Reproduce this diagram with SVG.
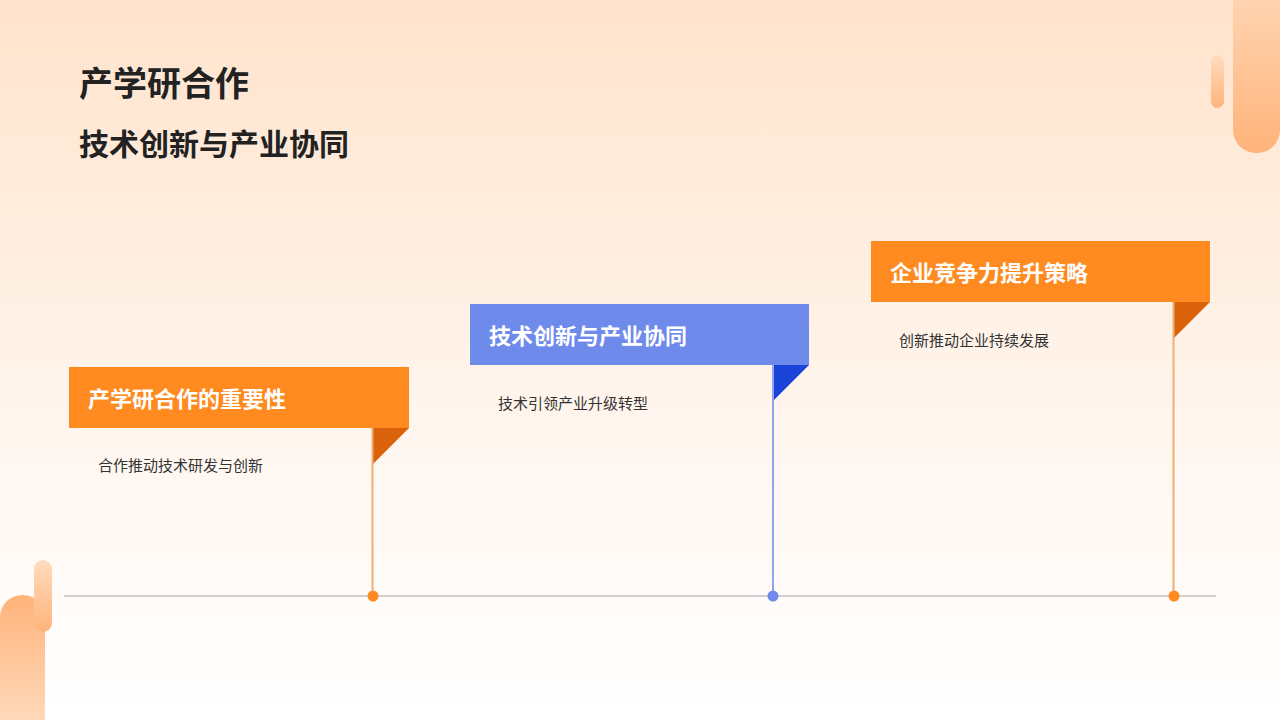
<svg xmlns="http://www.w3.org/2000/svg" width="1280" height="720" viewBox="0 0 1280 720">
<defs>
<linearGradient id="bg" x1="0" y1="0" x2="0" y2="1"><stop offset="0" stop-color="#FFE3CC"/><stop offset="0.6" stop-color="#FFF6EF"/><stop offset="1" stop-color="#FFFFFF"/></linearGradient>
<linearGradient id="pill" x1="0" y1="0" x2="0" y2="1"><stop offset="0" stop-color="#FFDCBE"/><stop offset="1" stop-color="#FFB37A"/></linearGradient>
<linearGradient id="pill2" x1="0" y1="0" x2="0" y2="1"><stop offset="0" stop-color="#FFB37A"/><stop offset="1" stop-color="#FFE3CC"/></linearGradient>
<style>
.t{font-family:"Noto Sans CJK SC",sans-serif;}
.h{font-weight:bold;fill:#222;}
.ft{font-weight:bold;fill:#fff;font-size:22px;}
.d{fill:#333;font-size:15px;}
</style>
</defs>
<rect width="1280" height="720" fill="url(#bg)"/>
<rect x="1233" y="-40" width="47" height="193" rx="23" fill="url(#pill)"/>
<rect x="1211" y="55" width="13" height="53" rx="6.5" fill="url(#pill)"/>
<rect x="0" y="595" width="45" height="160" rx="22" fill="url(#pill2)"/>
<rect x="34" y="560" width="18" height="72" rx="9" fill="url(#pill)"/>
<text class="t h" x="79" y="96" font-size="34">产学研合作</text>
<text class="t h" x="79" y="155" font-size="30">技术创新与产业协同</text>
<g id="connectors">
<line x1="64" y1="596" x2="1216" y2="596" stroke="#D0D0D0" stroke-width="2"/>
</g>
<g id="flag1">
<rect x="69" y="367" width="340" height="61" fill="#FF8A1F"/>
<polygon points="372,428 409,428 372,465" fill="#D9620B"/>
<line x1="372.5" y1="428" x2="372.5" y2="596" stroke="#F0B070" stroke-width="2"/>
<circle cx="373" cy="596" r="5.5" fill="#FF8A1F"/>
<text class="t ft" x="88" y="407">产学研合作的重要性</text>
<text class="t d" x="98" y="471">合作推动技术研发与创新</text>
</g>
<g id="flag2">
<rect x="470" y="304" width="339" height="61" fill="#6E8BEB"/>
<polygon points="772,365 809,365 772,402" fill="#1A44D9"/>
<line x1="773" y1="365" x2="773" y2="596" stroke="#8FA3EE" stroke-width="2"/>
<circle cx="773" cy="596" r="5.5" fill="#6E8BEB"/>
<text class="t ft" x="489" y="344">技术创新与产业协同</text>
<text class="t d" x="498" y="409">技术引领产业升级转型</text>
</g>
<g id="flag3">
<rect x="871" y="241" width="339" height="61" fill="#FF8A1F"/>
<polygon points="1173,302 1210,302 1173,339" fill="#D9620B"/>
<line x1="1173.5" y1="302" x2="1173.5" y2="596" stroke="#F0B070" stroke-width="2"/>
<circle cx="1174" cy="596" r="5.5" fill="#FF8A1F"/>
<text class="t ft" x="890" y="281">企业竞争力提升策略</text>
<text class="t d" x="899" y="346">创新推动企业持续发展</text>
</g>
</svg>
